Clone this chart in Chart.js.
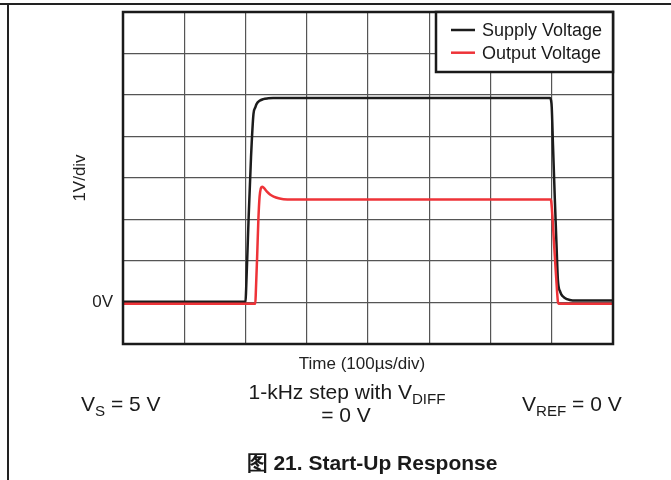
<!DOCTYPE html>
<html>
<head>
<meta charset="utf-8">
<script src="https://cdn.jsdelivr.net/npm/chart.js@4.4.1/dist/chart.umd.min.js"></script>
<style>
  body { margin: 0; background: #fff; }
  #wrap { position: relative; width: 671px; height: 480px; overflow: hidden;
          font-family: "Liberation Sans", Arial, sans-serif; color: #1a1a1a; }
  #chart { position: absolute; left: 0; top: 0; }
  .rule-top { position: absolute; left: 0; top: 3px; width: 671px; height: 2px; background: #222; }
  .rule-left { position: absolute; left: 7px; top: 3px; width: 2px; height: 477px; background: #222; }
  .note { position: absolute; font-size: 21px; line-height: 22px; white-space: nowrap; }
  .center { text-align: center; width: 300px; }
  .note sub { font-size: 72%; vertical-align: -0.35em; line-height: 0; }
  .axis-x { position: absolute; left: 212px; width: 300px; top: 354px; text-align: center;
            font-size: 17px; line-height: 20px; color: #222; }
  .caption { position: absolute; left: 222px; width: 300px; top: 452px; text-align: center;
             font-size: 21px; font-weight: bold; line-height: 22px; white-space: nowrap; }
</style>
</head>
<body>
<div id="wrap">
  <canvas id="chart" width="671" height="480"></canvas>
  <div class="rule-top"></div>
  <div class="rule-left"></div>
  <div class="axis-x">Time (100µs/div)</div>
  <div class="note" style="left:81px; top:393px;">V<sub>S</sub> = 5 V</div>
  <div class="note center" style="left:197px; top:381px;">1-kHz step with V<sub>DIFF</sub></div>
  <div class="note center" style="left:196px; top:404px;">= 0 V</div>
  <div class="note" style="left:522px; top:393px;">V<sub>REF</sub> = 0 V</div>
  <div class="caption">图 21. Start-Up Response</div>
</div>
<script>
// Time in µs (100 µs per division), volts (1 V per division)
const supplyTime  = [0, 200, 201, 205, 209, 213, 216, 218, 223, 229, 237, 245, 697, 699, 700, 702, 705, 708, 710, 714, 718, 725, 734, 800];
const supplyVolts = [0.02, 0.02, 0.3, 2.0, 3.5, 4.54, 4.7, 4.78, 4.86, 4.9, 4.92, 4.93, 4.93, 4.86, 4.7, 3.8, 2.5, 1.3, 0.55, 0.25, 0.15, 0.08, 0.05, 0.05];

const outputTime  = [0, 216, 217, 219, 221, 223, 225, 227, 230, 235, 240, 246, 254, 262, 275, 698, 699, 701, 704, 707, 710, 711, 800];
const outputVolts = [-0.03, -0.03, 0.3, 1.1, 1.99, 2.55, 2.75, 2.79, 2.76, 2.67, 2.6, 2.55, 2.51, 2.49, 2.48, 2.48, 2.45, 2.1, 1.35, 0.65, 0.02, -0.03, -0.03];

const seriesNames = ['Supply Voltage', 'Output Voltage'];
const seriesColors = ['#1c1c1c', '#ee3338'];
const yTickLabels = { 0: '0V' };

const FONT = '"Liberation Sans", Arial, sans-serif';

function toPoints(xs, ys) {
  return xs.map((x, i) => ({ x: x, y: ys[i] }));
}

// black frame round the plot area
const framePlugin = {
  id: 'frame',
  afterDatasetsDraw(chart) {
    const { ctx, chartArea: a } = chart;
    ctx.save();
    ctx.strokeStyle = '#1a1a1a';
    ctx.lineWidth = 2.5;
    ctx.strokeRect(a.left, a.top, a.right - a.left, a.bottom - a.top);
    ctx.restore();
  }
};

// boxed legend in the top right corner
const boxLegend = {
  id: 'boxLegend',
  afterDraw(chart) {
    const { ctx, chartArea: a } = chart;
    const w = 177, h = 60;
    const x0 = a.right - w, y0 = a.top;
    ctx.save();
    ctx.fillStyle = '#fff';
    ctx.fillRect(x0, y0, w, h);
    ctx.strokeStyle = '#1a1a1a';
    ctx.lineWidth = 2.5;
    ctx.strokeRect(x0, y0, w, h);
    ctx.font = '18px ' + FONT;
    ctx.textBaseline = 'middle';
    chart.data.datasets.forEach((ds, i) => {
      const y = y0 + 18 + i * 22.7;
      ctx.strokeStyle = ds.borderColor;
      ctx.lineWidth = 2.5;
      ctx.beginPath();
      ctx.moveTo(x0 + 15, y);
      ctx.lineTo(x0 + 39, y);
      ctx.stroke();
      ctx.fillStyle = '#1a1a1a';
      ctx.fillText(ds.label, x0 + 46, y + 1);
    });
    ctx.restore();
  }
};

const ctx = document.getElementById('chart').getContext('2d');
new Chart(ctx, {
  type: 'line',
  data: {
    datasets: [
      {
        label: seriesNames[0],
        data: toPoints(supplyTime, supplyVolts),
        borderColor: seriesColors[0],
        borderWidth: 2.5,
        pointRadius: 0,
        cubicInterpolationMode: 'monotone',
        order: 1
      },
      {
        label: seriesNames[1],
        data: toPoints(outputTime, outputVolts),
        borderColor: seriesColors[1],
        borderWidth: 2.5,
        pointRadius: 0,
        cubicInterpolationMode: 'monotone',
        order: 0
      }
    ]
  },
  options: {
    responsive: false,
    animation: false,
    layout: { padding: { left: 0, right: 58, top: 12, bottom: 104 } },
    plugins: { legend: { display: false }, tooltip: { enabled: false } },
    scales: {
      x: {
        type: 'linear',
        min: 0,
        max: 800,
        ticks: { display: false, stepSize: 100 },
        grid: { color: '#555', lineWidth: 1.2, drawTicks: false },
        border: { display: false },
        afterFit: s => { s.height = 32; s.paddingLeft = 0; s.paddingRight = 0; }
      },
      y: {
        min: -1,
        max: 7,
        ticks: {
          stepSize: 1,
          padding: 10,
          color: '#222',
          font: { family: FONT, size: 17 },
          callback: v => yTickLabels[v] || ''
        },
        grid: { color: '#555', lineWidth: 1.2, drawTicks: false },
        border: { display: false },
        title: {
          display: true,
          text: '1V/div',
          color: '#222',
          font: { family: FONT, size: 17 },
          padding: { top: 70, bottom: 0 }
        },
        afterFit: s => { s.width = 123; s.paddingTop = 0; s.paddingBottom = 0; }
      }
    }
  },
  plugins: [framePlugin, boxLegend]
});
</script>
</body>
</html>
